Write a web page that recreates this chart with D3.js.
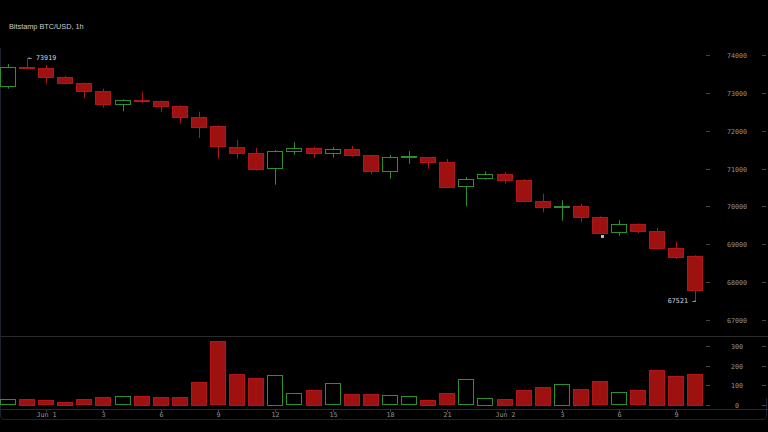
<!DOCTYPE html>
<html><head><meta charset="utf-8">
<script src="https://cdn.jsdelivr.net/npm/d3@7"></script>
<style>html,body{margin:0;padding:0;background:#000;overflow:hidden} text{opacity:0.99}</style>
</head><body>
<svg id="c" width="768" height="432"></svg>
<script>
const title = "Bitstamp BTC/USD, 1h";
const startTime = "2024-05-31T22:00:00Z";
const open  = [73181,73690,73660,73420,73250,73050,72706,72805,72790,72660,72370,72117,71578,71420,70997,71456,71535,71393,71509,71351,70936,71298,71300,71181,70540,70743,70849,70698,70143,69993,70010,69729,69317,69528,69343,68902,68683];
const high  = [73762,73919,73736,73445,73270,73110,72830,73015,72803,72671,72502,72143,71755,71543,71490,71694,71578,71570,71596,71360,71359,71464,71300,71253,70777,70928,70910,70720,70336,70162,70064,69740,69634,69554,69430,69068,68709];
const low   = [73110,73650,73242,73215,72856,72608,72513,72724,72494,72196,71808,71261,71261,70944,70574,71366,71287,71298,71314,70849,70732,71129,70997,70495,70003,70706,70600,70130,69845,69623,69597,69272,69227,69298,68868,68611,67521];
const close = [73675,73675,73427,73250,73050,72706,72803,72790,72661,72370,72117,71578,71419,70997,71456,71543,71393,71509,71351,70936,71298,71320,71181,70513,70725,70849,70698,70143,69993,70010,69729,69306,69528,69343,68902,68664,67774];
const volume= [28,31,22,15,28,39,43,46,39,39,116,325,159,137,152,58,75,110,55,55,48,43,24,58,130,36,29,75,91,106,82,120,64,74,178,147,157];
const priceTicks = [67000,68000,69000,70000,71000,72000,73000,74000];
const volTicks = [0,100,200,300];
const highLabel = {index:1, text:"\u2190 73919"};
const lowLabel = {index:36, text:"67521 \u2192"};
const markerIndex = [31];

const t0 = new Date(startTime);
const times = d3.utcHour.range(t0, d3.utcHour.offset(t0, open.length));
const data = times.map((t,i)=>({t, o:open[i], h:high[i], l:low[i], c:close[i], v:volume[i]}));

const svg = d3.select("#c");
svg.append("rect").attr("width",768).attr("height",432).attr("fill","#000");

const RED_FILL="#9e1111", RED_STROKE="#b01818", GREEN="#2f8f2f";
const jun1 = new Date("2024-06-01T00:00:00Z");
const pxPerHour = 19.1;
const x = d3.scaleUtc()
  .domain([d3.utcMinute.offset(jun1, Math.round(-46/pxPerHour*60)), d3.utcMinute.offset(jun1, Math.round((706-46)/pxPerHour*60))])
  .range([0,706]);
const y = d3.scaleLinear().domain([67000,74000]).range([320,55]);
const yv = d3.scaleLinear().domain([0,300]).range([404.7,346.2]);
const bw = 16;

// frame
svg.append("path").attr("d","M0.5,48 L0.5,416 Q0.5,419.5 4,419.5 L762,419.5 Q766.5,419.5 766.5,415 L766.5,398")
  .attr("fill","none").attr("stroke","#1d2230").attr("stroke-width",1);
svg.append("line").attr("x1",1).attr("x2",768).attr("y1",336.5).attr("y2",336.5).attr("stroke","#2b2b2b");
svg.append("line").attr("x1",1).attr("x2",768).attr("y1",409.5).attr("y2",409.5).attr("stroke","#2b2b2b");

svg.append("text").attr("x",9).attr("y",29).text(title)
  .attr("font-family","Liberation Sans, Arial, sans-serif").attr("font-size",7.3).attr("fill","#cfcfcf");

const mono = "DejaVu Sans Mono, monospace";
const isUp = d => d.c >= d.o;
const cx = d => Math.round(x(d.t));

// candles
const cg = svg.append("g");
cg.selectAll("line.w").data(data).join("line")
  .attr("x1",d=>cx(d)+0.5).attr("x2",d=>cx(d)+0.5)
  .attr("y1",d=>y(d.h)).attr("y2",d=>y(d.l))
  .attr("stroke",d=>isUp(d)?GREEN:RED_STROKE).attr("stroke-width",1);
cg.selectAll("rect.b").data(data).join("rect")
  .attr("x",d=>cx(d)-bw/2+0.5).attr("width",bw-1)
  .attr("y",d=>Math.round(y(Math.max(d.o,d.c)))+0.5)
  .attr("height",d=>Math.max(0.01,Math.round(Math.abs(y(d.o)-y(d.c)))))
  .attr("fill",d=>isUp(d)?"#000":RED_FILL)
  .attr("stroke",d=>isUp(d)?GREEN:RED_STROKE).attr("stroke-width",1);

// volume
svg.append("g").selectAll("rect").data(data).join("rect")
  .attr("x",d=>cx(d)-bw/2+0.5).attr("width",bw-1)
  .attr("y",d=>Math.round(yv(d.v))+0.5)
  .attr("height",d=>Math.round(yv(0)-yv(d.v)))
  .attr("fill",d=>isUp(d)?"#000":RED_FILL)
  .attr("stroke",d=>isUp(d)?GREEN:RED_STROKE).attr("stroke-width",1);

// price axis
const pa = svg.append("g");
priceTicks.forEach(p=>{
  const yy = Math.round(y(p))+0.5;
  pa.append("line").attr("x1",706).attr("x2",710).attr("y1",yy).attr("y2",yy).attr("stroke","#444");
  pa.append("line").attr("x1",762).attr("x2",766).attr("y1",yy).attr("y2",yy).attr("stroke","#444");
  pa.append("text").attr("x",737).attr("y",yy).attr("dy","0.35em").attr("text-anchor","middle")
    .attr("font-family",mono).attr("font-size",6.7).attr("fill","#9a9a9a").text(p);
});
volTicks.forEach(v=>{
  const yy = Math.round(yv(v))+0.5;
  pa.append("line").attr("x1",706).attr("x2",710).attr("y1",yy).attr("y2",yy).attr("stroke","#444");
  pa.append("line").attr("x1",762).attr("x2",766).attr("y1",yy).attr("y2",yy).attr("stroke","#444");
  pa.append("text").attr("x",737).attr("y",yy).attr("dy","0.35em").attr("text-anchor","middle")
    .attr("font-family",mono).attr("font-size",6.7).attr("fill","#9a9a9a").text(v);
});

// time axis
const fmt = d => d.getUTCHours()===0 ? d3.utcFormat("%b %-d")(d) : String(d.getUTCHours());
x.ticks(d3.utcHour.every(3)).forEach(t=>{
  const xx = Math.round(x(t))+0.5;
  if (xx < 5 || xx > 700) return;
  svg.append("line").attr("x1",xx).attr("x2",xx).attr("y1",410).attr("y2",412).attr("stroke","#444");
  svg.append("text").attr("x",xx).attr("y",415).attr("dy","0.35em").attr("text-anchor","middle")
    .attr("font-family",mono).attr("font-size",6.7).attr("fill","#9a9a9a").text(fmt(t));
});

// annotations
const hd = data[highLabel.index];
svg.append("text").attr("x",cx(hd)+1).attr("y",y(hd.h)).attr("dy","0.35em")
  .attr("font-family",mono).attr("font-size",6.7).attr("fill","#dddddd").text(highLabel.text);
const ld = data[lowLabel.index];
svg.append("text").attr("x",cx(ld)+1).attr("y",y(ld.l)).attr("dy","0.35em").attr("text-anchor","end")
  .attr("font-family",mono).attr("font-size",6.7).attr("fill","#dddddd").text(lowLabel.text);
markerIndex.forEach(i=>{
  const d = data[i];
  svg.append("rect").attr("x",cx(d)+1).attr("y",y(d.l)+1).attr("width",3).attr("height",3).attr("fill","#bbbbbb");
});
</script>
</body></html>
